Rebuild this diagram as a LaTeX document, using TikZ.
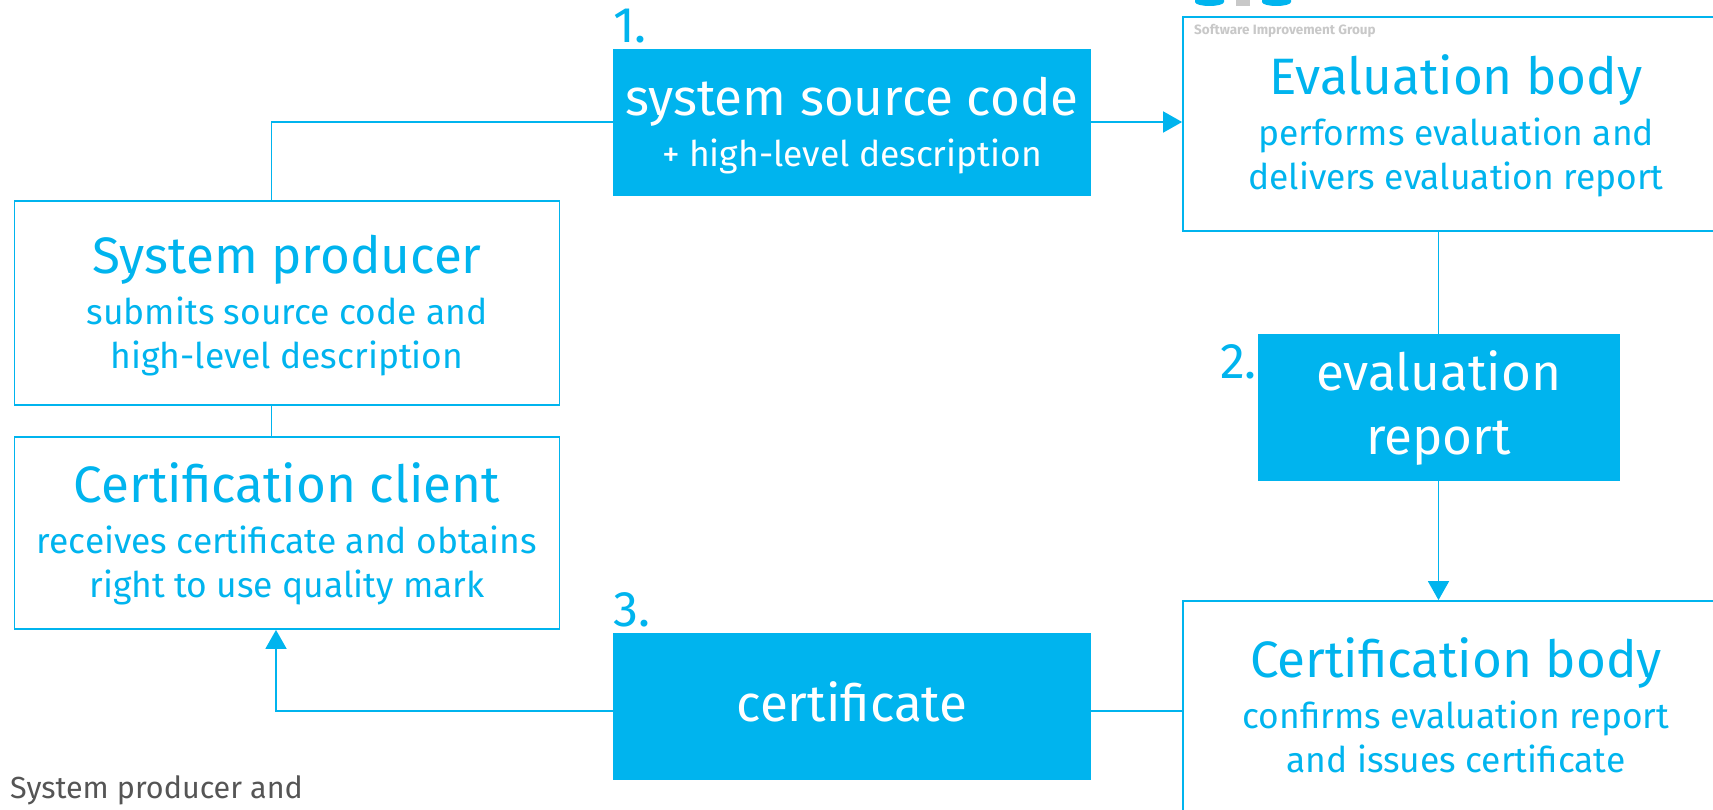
\documentclass[tikz,border=0pt]{standalone}
\usepackage{fontspec}
\setmainfont{Fira Sans}
\usetikzlibrary{arrows.meta}
\definecolor{sigblue}{HTML}{00B4EE}
\definecolor{siggrey}{HTML}{C8C8C8}
\definecolor{sigtext}{HTML}{555555}
\newcommand{\hdfont}{\fontsize{51.2}{44}\selectfont}
\newcommand{\subfont}{\fontsize{35.4}{44}\selectfont}
\newcommand{\hdline}[1]{{\hdfont\rule{0pt}{44pt}#1}}
\newcommand{\lowroom}[1]{\rule[-#1pt]{0pt}{#1pt}}
\tikzset{
  outline/.style={draw=sigblue,line width=1.8pt,fill=white,text=sigblue,align=center,inner sep=0pt,font=\subfont},
  solid box/.style={fill=sigblue,text=white,align=center,inner sep=0pt,font=\subfont},
  numlabel/.style={text=sigblue,font=\fontsize{50}{50}\selectfont,inner sep=0pt},
  conn/.style={draw=sigblue,line width=1.8pt},
  arrowconn/.style={conn,-{Triangle[length=19pt,width=21pt]}}
}
\begin{document}
\begin{tikzpicture}[x=1pt,y=-1pt]
\useasboundingbox (0,0) rectangle (1713,810);

% logo remains at the top edge
\fill[sigblue] (1195,-2) -- (1195,2) arc (180:0:14.5 and 4) -- (1224,-2) -- cycle;
\fill[siggrey] (1236,-2) rectangle (1250,6);
\fill[sigblue] (1262,-2) -- (1262,2) arc (180:0:14.5 and 4) -- (1291,-2) -- cycle;

% connectors go below the boxes
\coordinate (prodbend) at (271.5,122);
\coordinate (clientbend) at (276,711);

\node[outline,minimum width=546,minimum height=214] (evalbody) at (1456,124)
  {\hdline{Evaluation body}\\[7pt]performs evaluation and\\delivers evaluation report};
\node[outline,minimum width=546,minimum height=218] (certbody) at (1456,710)
  {\hdline{Certification body}\\[7pt]confirms evaluation report\\and issues certificate\lowroom{13.5}};
\node[outline,minimum width=545,minimum height=204] (producer) at (287,303)
  {\hdline{System producer}\\[7pt]submits source code and\\high-level description};
\node[outline,minimum width=545,minimum height=192] (client) at (287,533)
  {\hdline{Certification client}\\[7pt]receives certificate and obtains\\right to use quality mark\lowroom{11}};

\node[solid box,minimum width=478,minimum height=147] (code) at (852,122.5)
  {\hdline{system source code}\\[7pt]+ high-level description};
\node[solid box,minimum width=362,minimum height=147] (report) at (1438.5,407.5)
  {\hdfont\rule{0pt}{41pt}evaluation\\[20pt]\hdfont report};
\node[solid box,minimum width=478,minimum height=147] (certificate) at (852,706)
  {\hdfont certificate\lowroom{9}};

\node[numlabel,anchor=base west] (num1) at (613,43) {1.};
\node[numlabel,anchor=base west] (num2) at (1220,378) {2.};
\node[numlabel,anchor=base west] (num3) at (613,626) {3.};

\node[anchor=base west,inner sep=0pt,text=siggrey,font=\bfseries\fontsize{13.5}{13.5}\selectfont] (sig) at (1194,35) {Software Improvement Group};
\node[anchor=base west,inner sep=0pt,text=sigtext,font=\fontsize{30.5}{30.5}\selectfont] (note) at (10,798) {System producer and};

\draw[conn] (producer.north -| prodbend) -- (prodbend) -- (code.west |- prodbend);
\draw[arrowconn] (code.east |- prodbend) -- (evalbody.west |- prodbend);
\draw[conn] (evalbody.south -| report.north) -- (report.north);
\draw[arrowconn] (report.south) -- (certbody.north -| report.south);
\draw[conn] (producer.south -| prodbend) -- (client.north -| prodbend);
\draw[conn] (certbody.west |- clientbend) -- (certificate.east |- clientbend);
\draw[arrowconn] (certificate.west |- clientbend) -- (clientbend) -- (client.south -| clientbend);

\end{tikzpicture}
\end{document}
